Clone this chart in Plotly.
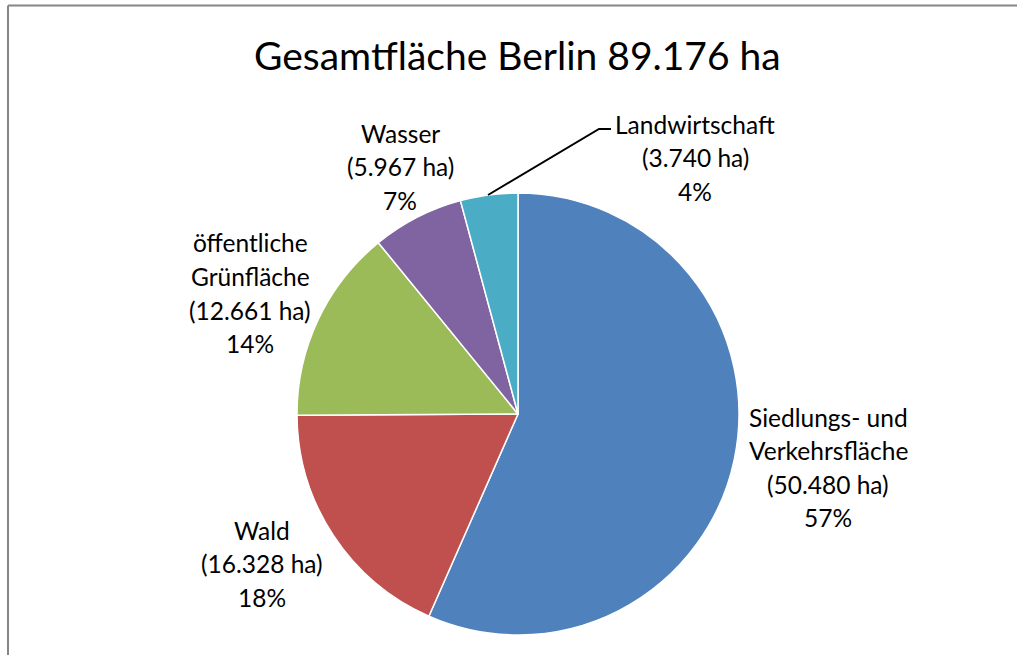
import plotly.graph_objects as go

W, H = 1017, 655

# ---- data ----
categories = ["Siedlungs- und Verkehrsfläche", "Wald", "öffentliche Grünfläche", "Wasser", "Landwirtschaft"]
label_lines = [["Siedlungs- und", "Verkehrsfläche"], ["Wald"], ["öffentliche", "Grünfläche"], ["Wasser"], ["Landwirtschaft"]]
values_ha = [50480, 16328, 12661, 5967, 3740]
colors = ["#4F81BD", "#C0504D", "#9BBB59", "#8064A2", "#4BACC6"]
title_text = "Gesamtfläche Berlin 89.176 ha"

# label block placement (pixel centers of first line) - layout only
label_pos = [(828, 417), (262, 530), (250, 243), (400, 133), (695, 124)]
LINE_H = 33.5

FONT = "Lato, Carlito, Calibri, sans-serif"

total = sum(values_ha)

fig = go.Figure()
cx, cy, r = 518, 414, 221
fig.add_trace(go.Pie(
    labels=categories,
    values=values_ha,
    sort=False,
    direction="clockwise",
    rotation=0,
    marker=dict(colors=colors, line=dict(color="white", width=1.5)),
    textinfo="none",
    hoverinfo="label+value+percent",
    showlegend=False,
    domain=dict(x=[(cx - r) / W, (cx + r) / W], y=[1 - (cy + r) / H, 1 - (cy - r) / H]),
))

def fmt(v):
    return f"{v:,}".replace(",", ".")

annotations = []
for lines, v, (px, py) in zip(label_lines, values_ha, label_pos):
    all_lines = lines + [f"({fmt(v)} ha)", f"{round(v / total * 100)}%"]
    for i, t in enumerate(all_lines):
        annotations.append(dict(
            x=px / W, y=1 - (py + i * LINE_H) / H, xref="paper", yref="paper",
            text=t, showarrow=False, xanchor="center", yanchor="middle",
            font=dict(family=FONT, size=24.5, color="#000000"),
        ))

annotations.append(dict(
    x=517 / W, y=1 - 55 / H, xref="paper", yref="paper", text=title_text,
    showarrow=False, xanchor="center", yanchor="middle",
    font=dict(family=FONT, size=39, color="#000000"),
))

shapes = [
    # chart border (top and left edges visible)
    dict(type="line", xref="paper", yref="paper", x0=8 / W, x1=1.2, y0=1 - 5.5 / H, y1=1 - 5.5 / H,
         line=dict(color="#868686", width=2)),
    dict(type="line", xref="paper", yref="paper", x0=8 / W, x1=8 / W, y0=-0.2, y1=1 - 5.5 / H,
         line=dict(color="#868686", width=2)),
    # leader line for Landwirtschaft
    dict(type="path", xref="paper", yref="paper",
         path=f"M {488/W} {1-195/H} L {599/W} {1-129/H} L {611/W} {1-129/H}",
         line=dict(color="#000000", width=2)),
]

fig.update_layout(
    width=W, height=H,
    margin=dict(l=0, r=0, t=0, b=0),
    paper_bgcolor="white", plot_bgcolor="white",
    annotations=annotations,
    shapes=shapes,
)

fig.write_html(
    "out.html", config={"displayModeBar": False},
    post_script=("document.body.style.margin='0';document.body.style.overflow='hidden';"
                 "document.documentElement.style.overflow='hidden';"),
)
